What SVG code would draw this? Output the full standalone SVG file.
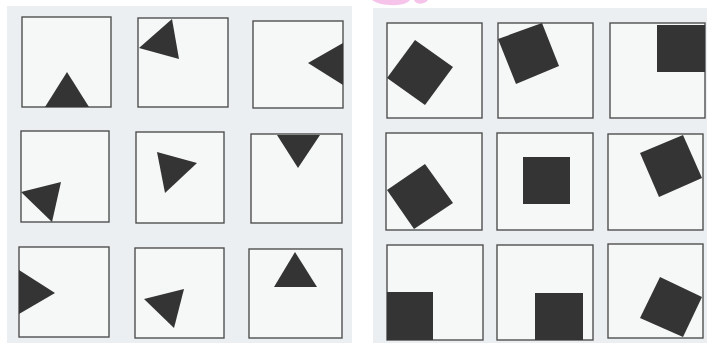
<svg xmlns="http://www.w3.org/2000/svg" width="707" height="347" viewBox="0 0 707 347">
<style>
.bg{fill:#eceff1}
.box{fill:#f6f7f7;stroke:#505050;stroke-width:1.4}
.sh{fill:#343434}
</style>
<rect x="0" y="0" width="707" height="347" fill="#ffffff"/>
<path d="M372,0 C380,6 400,7 408,2 L410,0 Z M414,0 C416,5 424,5 428,0 Z" fill="#f6c4ea"/>
<rect class="bg" x="7" y="6" width="345" height="337"/>
<rect class="bg" x="373" y="8" width="334" height="335"/>
<g id="left-panel">
<g id="L1"><rect class="box" x="22" y="17" width="89" height="90"/><polygon class="sh" points="45,107 67,72 89,107"/></g>
<g id="L2"><rect class="box" x="138" y="18" width="90" height="89"/><polygon class="sh" points="139,48 172,19 179,59"/></g>
<g id="L3"><rect class="box" x="253" y="21" width="90" height="87"/><polygon class="sh" points="343,43 308,63 343,85"/></g>
<g id="L4"><rect class="box" x="21" y="131" width="88" height="91"/><polygon class="sh" points="21,192 61,182 52,222"/></g>
<g id="L5"><rect class="box" x="136" y="132" width="88" height="91"/><polygon class="sh" points="157,152 197,163 165,193"/></g>
<g id="L6"><rect class="box" x="251" y="134" width="91" height="89"/><polygon class="sh" points="277,135 320,135 298,168"/></g>
<g id="L7"><rect class="box" x="19" y="247" width="90" height="90"/><polygon class="sh" points="19,270 55,293 19,314"/></g>
<g id="L8"><rect class="box" x="135" y="248" width="89" height="90"/><polygon class="sh" points="144,299 184,289 174,328"/></g>
<g id="L9"><rect class="box" x="249" y="249" width="93" height="89"/><polygon class="sh" points="295,252 274,287 317,287"/></g>
</g>
<g id="right-panel">
<g id="R1"><rect class="box" x="387" y="23" width="95" height="95"/><polygon class="sh" points="415,40 453,67 425,105 387,78"/></g>
<g id="R2"><rect class="box" x="498" y="23" width="95" height="95"/><polygon class="sh" points="498,39 542,23 559,66 516,84"/></g>
<g id="R3"><rect class="box" x="610" y="23" width="95" height="95"/><rect class="sh" x="657" y="25" width="48" height="47"/></g>
<g id="R4"><rect class="box" x="386" y="133" width="96" height="97"/><polygon class="sh" points="425,164 453,203 414,229 387,190"/></g>
<g id="R5"><rect class="box" x="497" y="133" width="96" height="97"/><rect class="sh" x="523" y="157" width="47" height="47"/></g>
<g id="R6"><rect class="box" x="608" y="134" width="95" height="96"/><polygon class="sh" points="640,153 683,135 702,178 659,197"/></g>
<g id="R7"><rect class="box" x="387" y="245" width="96" height="95"/><rect class="sh" x="387" y="292" width="46" height="48"/></g>
<g id="R8"><rect class="box" x="497" y="245" width="96" height="95"/><rect class="sh" x="535" y="293" width="48" height="47"/></g>
<g id="R9"><rect class="box" x="608" y="244" width="95" height="94"/><polygon class="sh" points="660,277 702,297 683,337 640,318"/></g>
</g>
<g id="connectors"/>
</svg>
